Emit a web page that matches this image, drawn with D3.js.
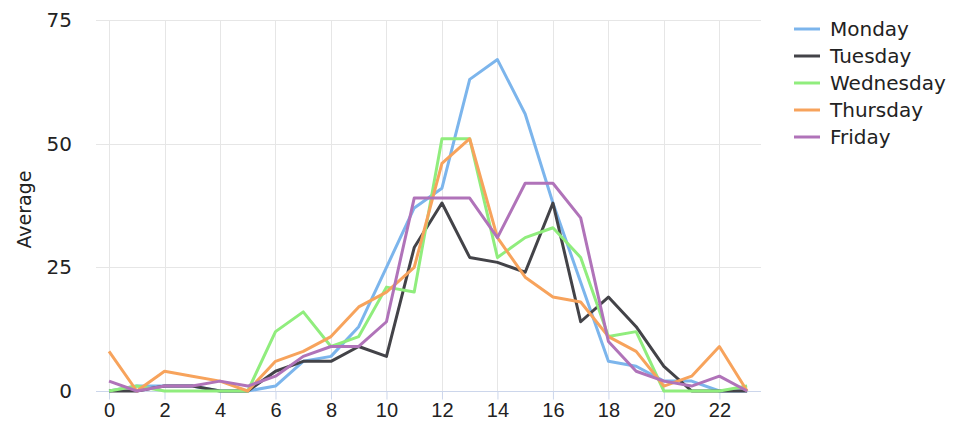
<!DOCTYPE html>
<html>
<head>
<meta charset="utf-8">
<script src="https://cdn.jsdelivr.net/npm/d3@7"></script>
<style>
  body { margin: 0; background: #fff; }
  svg { font-family: "DejaVu Sans", sans-serif; }
</style>
</head>
<body>
<div id="chart"></div>
<script>
const WIDTH = 959
const HEIGHT = 428

const hours = d3.range(0, 24)
const yTicks = [0, 25, 50, 75]
const xTicks = d3.range(0, 24, 2)

const days = ['Monday', 'Tuesday', 'Wednesday', 'Thursday', 'Friday']
const colors = ['#7cb5ec', '#434348', '#90ed7d', '#f7a35c', '#b073b9']

const monday    = [0, 1, 1, 1, 0, 0, 1, 6, 7, 13, 25, 37, 41, 63, 67, 56, 38, 22, 6, 5, 2, 2, 0, 0]
const tuesday   = [0, 0, 1, 1, 0, 0, 4, 6, 6, 9, 7, 29, 38, 27, 26, 24, 38, 14, 19, 13, 5, 0, 0, 0]
const wednesday = [0, 1, 0, 0, 0, 0, 12, 16, 9, 11, 21, 20, 51, 51, 27, 31, 33, 27, 11, 12, 0, 0, 0, 1]
const thursday  = [8, 0, 4, 3, 2, 0, 6, 8, 11, 17, 20, 25, 46, 51, 31, 23, 19, 18, 11, 8, 1, 3, 9, 0]
const friday    = [2, 0, 1, 1, 2, 1, 3, 7, 9, 9, 14, 39, 39, 39, 31, 42, 42, 35, 10, 4, 2, 1, 3, 0]

const series = [monday, tuesday, wednesday, thursday, friday]

const margin = { top: 20, left: 96, right: 198, bottom: 37 }

const svg = d3.select('#chart')
    .append('svg')
    .attr('width', WIDTH)
    .attr('height', HEIGHT)

const x = d3.scaleLinear()
    .domain([-0.47, 23.5])
    .range([margin.left, WIDTH - margin.right])

const y = d3.scaleLinear()
    .domain([0, 75])
    .range([391, margin.top])

// Grid lines
svg.append('g')
    .selectAll('line')
    .data(yTicks)
    .join('line')
    .attr('x1', margin.left)
    .attr('x2', WIDTH - margin.right)
    .attr('y1', d => Math.round(y(d)) + 0.5)
    .attr('y2', d => Math.round(y(d)) + 0.5)
    .attr('stroke', '#e6e6e6')

svg.append('g')
    .selectAll('line')
    .data(xTicks)
    .join('line')
    .attr('x1', d => Math.round(x(d)) + 0.5)
    .attr('x2', d => Math.round(x(d)) + 0.5)
    .attr('y1', margin.top)
    .attr('y2', y(0))
    .attr('stroke', '#e6e6e6')

// X axis
const xAxis = svg.append('g')
    .attr('transform', `translate(0,${Math.round(y(0)) + 0.5})`)
    .call(d3.axisBottom(x).tickValues(xTicks).tickSize(8).tickPadding(3).tickFormat(d3.format('d')))

xAxis.select('.domain').attr('stroke', '#ccd6eb').attr('d', `M${margin.left},0H${WIDTH - margin.right}`)
xAxis.selectAll('.tick line').attr('stroke', '#ccd6eb')
xAxis.selectAll('.tick text')
    .attr('fill', '#222')
    .attr('font-size', 20)

// Y labels
svg.append('g')
    .selectAll('text')
    .data(yTicks)
    .join('text')
    .attr('x', 72)
    .attr('y', d => y(d) + 7)
    .attr('text-anchor', 'end')
    .attr('font-size', 20)
    .attr('fill', '#222')
    .text(d => d)

svg.append('text')
    .attr('transform', `translate(31,${(y(0) + y(75)) / 2 + 4}) rotate(-90)`)
    .attr('text-anchor', 'middle')
    .attr('font-size', 19)
    .attr('fill', '#222')
    .text('Average')

// Lines
const line = d3.line()
    .x((d, i) => x(hours[i]))
    .y(d => y(d))

svg.append('g')
    .selectAll('path')
    .data(series)
    .join('path')
    .attr('d', d => line(d))
    .attr('fill', 'none')
    .attr('stroke', (d, i) => colors[i])
    .attr('stroke-width', 3)
    .attr('stroke-linejoin', 'round')

// Legend
const legend = svg.append('g')
    .selectAll('g')
    .data(days)
    .join('g')
    .attr('transform', (d, i) => `translate(794,${29 + i * 27})`)

legend.append('line')
    .attr('x1', 0)
    .attr('x2', 26)
    .attr('stroke', (d, i) => colors[i])
    .attr('stroke-width', 3)

legend.append('text')
    .attr('x', 36)
    .attr('y', 7)
    .attr('font-size', 20)
    .attr('fill', '#222')
    .text(d => d)
</script>
</body>
</html>
